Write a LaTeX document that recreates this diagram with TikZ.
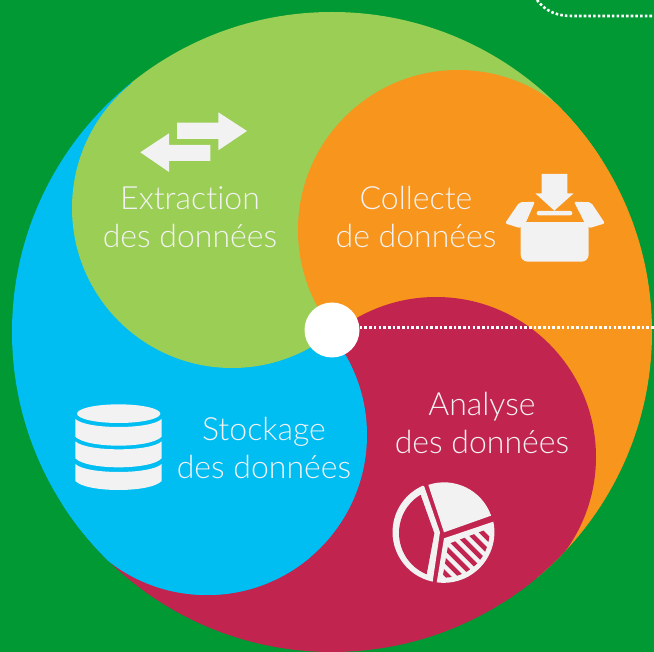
\documentclass[tikz,border=0pt]{standalone}
\usepackage{fontspec}
\setmainfont{Lato}[UprightFont=* Light,Ligatures=NoCommon]
\definecolor{bgG}{HTML}{009933}
\definecolor{lobeG}{HTML}{9BCE55}
\definecolor{lobeO}{HTML}{F7951D}
\definecolor{lobeR}{HTML}{C1244F}
\definecolor{lobeB}{HTML}{00BDF2}
\definecolor{iconW}{HTML}{F2F2F2}
\tikzset{
  lobetext/.style={text=iconW,font=\fontsize{32}{38.5}\selectfont,align=center,inner sep=0pt},
  dotline/.style={draw=white,line width=2.6pt,dash pattern=on 2.6pt off 2.1pt},
  icon/.style={fill=iconW,draw=none}
}
\begin{document}
\begin{tikzpicture}[x=1pt,y=-1pt]
\useasboundingbox (0,0) rectangle (654,652);
\fill[bgG] (0,0) rectangle (654,652);
% outer disc sectors and lobes
\begin{scope}
\clip (332,332) circle[radius=320];
\fill[lobeB] (332,332) -- (-43,641) -- (-400,332) -- (32,-40) -- cycle;
\fill[lobeG] (332,332) -- (32,-40) -- (332,-400) -- (710,26) -- cycle;
\fill[lobeO] (332,332) -- (710,26) -- (1000,332) -- (644,707) -- cycle;
\fill[lobeR] (332,332) -- (644,707) -- (332,1000) -- (-43,641) -- cycle;
\fill[lobeB] (207,435) circle[radius=160];
\fill[lobeG] (232,208) circle[radius=160];
\fill[lobeO] (458,230) circle[radius=160];
\fill[lobeR] (436,457) circle[radius=160];
\begin{scope}
\clip (332,332) -- (-43,641) -- (332,1000) -- (800,800) -- (800,332) -- cycle;
\fill[lobeB] (207,435) circle[radius=160];
\end{scope}
\end{scope}
% dotted leaders
\node[circle,fill=white,minimum size=55pt,inner sep=0pt] (hub) at (332,330) {};
\coordinate (lineEnd) at (654,327.5);
\draw[dotline] (hub.east |- lineEnd) -- (lineEnd);
\coordinate (topA) at (537,0);
\coordinate (topB) at (654,16);
\draw[dotline] (topA) .. controls (546,12) and (558,16) .. (572,16) -- (topB);
% labels
\node[lobetext] (extract) at (190,217) {Extraction\\des données};
\node[lobetext] (collect) at (416,217) {Collecte\\de données};
\node[lobetext] (analyse) at (482,423) {Analyse\\des données};
\node[lobetext] (stock) at (264,448) {Stockage\\des données};
% exchange arrows icon
\fill[icon] (177,122.7) -- (218.3,122.7) -- (218.3,112.3) -- (247,131) -- (218.3,150.3) -- (218.3,139) -- (177,139) -- cycle;
\fill[icon] (140.3,152.3) -- (169,133.3) -- (169,145) -- (210.3,145) -- (210.3,161) -- (169,161) -- (169,172) -- cycle;
% box icon
\begin{scope}[shift={(490,160)},x=0.3333pt,y=-0.3333pt]
\fill[icon,rounded corners=7pt] (92,170) -- (296,170) -- (296,305) -- (92,305) -- cycle;
\fill[lobeO] (135,125) -- (108,186) -- (283,186) -- (252,125) -- cycle;
\fill[icon,rounded corners=2pt] (135,125) -- (88,127) -- (45,190) -- (92,205) -- (108,186) -- cycle;
\fill[icon,rounded corners=2pt] (252,125) -- (303,127) -- (345,190) -- (296,205) -- (283,186) -- cycle;
\fill[icon] (155,42) -- (232,42) -- (232,100) -- (251,100) -- (193,152) -- (136,100) -- (155,100) -- cycle;
\fill[icon,rounded corners=2pt] (140,153) rectangle (247,166);
\end{scope}
% pie icon
\begin{scope}[shift={(380,470)},x=0.3333pt,y=-0.3333pt]
\fill[icon] (192,187) -- ++(-108.3:150) arc[start angle=-108.3,end angle=-19.5,radius=150] -- cycle;
\fill[icon] (133,50) -- (180,187) -- (158,335) arc[start angle=102,end angle=246.5,radius=152] -- cycle;
\fill[lobeR] (122,75) -- (163,190) -- (140,313) arc[start angle=112.4,end angle=238,radius=134] -- cycle;
\fill[icon] (192,205) -- (340,155) arc[start angle=-12,end angle=98,radius=152] -- cycle;
\begin{scope}
\clip (205,222) -- (328,175) arc[start angle=-5,end angle=92,radius=136] -- cycle;
\foreach \c in {-115,-76,-37,2,41,80,119}
  \draw[lobeR,line width=4.5pt] (\c+100,100) -- (\c+350,350);
\end{scope}
\end{scope}
% database icon
\begin{scope}[shift={(60,395)},x=0.3333pt,y=-0.3333pt]
\fill[icon] (176,56) ellipse[x radius=125,y radius=28];
\foreach \a/\b in {72/125,139/190,207/258}{
  \fill[icon] (46,\a) .. controls (80,\a+32) and (272,\a+32) .. (305,\a) -- (305,\b) .. controls (272,\b+36) and (80,\b+36) .. (46,\b) -- cycle;
}
\end{scope}
\end{tikzpicture}
\end{document}
